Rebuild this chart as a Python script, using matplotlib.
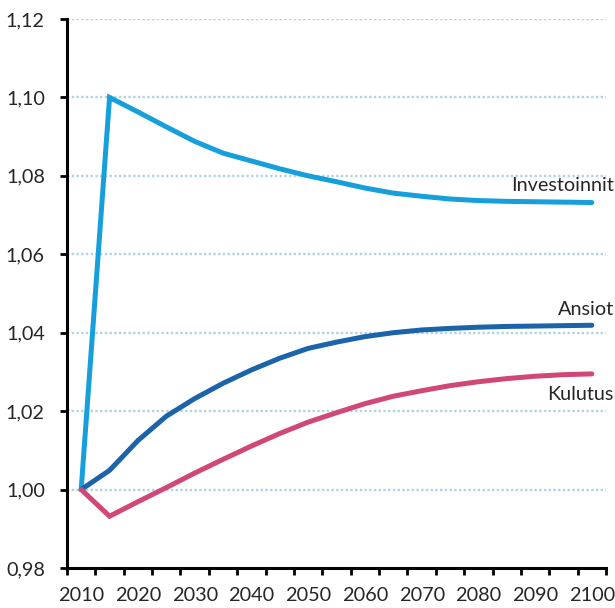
import matplotlib
matplotlib.use("Agg")
import matplotlib.pyplot as plt
from matplotlib.ticker import FuncFormatter, FixedLocator

years = list(range(2010, 2101, 5))
investoinnit = [1.0000, 1.1000, 1.0963, 1.0925, 1.0888, 1.0858, 1.0838, 1.0818, 1.0800,
                1.0785, 1.0769, 1.0756, 1.0748, 1.0741, 1.0737, 1.0735, 1.0734, 1.0733, 1.0732]
ansiot = [1.0000, 1.0049, 1.0125, 1.0187, 1.0232, 1.0271, 1.0305, 1.0335, 1.0360,
          1.0376, 1.0390, 1.0400, 1.0407, 1.0411, 1.0414, 1.0416, 1.0417, 1.0418, 1.0419]
kulutus = [1.0000, 0.9932, 0.9969, 1.0005, 1.0042, 1.0077, 1.0111, 1.0143, 1.0172,
           1.0196, 1.0219, 1.0238, 1.0252, 1.0265, 1.0275, 1.0283, 1.0289, 1.0293, 1.0295]
series_names = ["Investoinnit", "Ansiot", "Kulutus"]
colors = ["#169fdb", "#1b64a9", "#d04778"]
xtick_labels = [str(y) for y in range(2010, 2101, 10)]
yticks = [0.98, 1.00, 1.02, 1.04, 1.06, 1.08, 1.10, 1.12]

plt.rcParams['font.family'] = ['Lato', 'DejaVu Sans']
FS = 14.3
TC = '#262626'

fig = plt.figure(figsize=(6.15, 6.08), dpi=100)
ax = fig.add_axes([67/615, 1 - 568/608, (606-67)/615, (568-19)/608])

for vals, c in zip([investoinnit, ansiot, kulutus], colors):
    ax.plot(years, vals, color=c, lw=3.6, solid_capstyle='round', solid_joinstyle='miter', zorder=3)

ax.set_xlim(2007.5, 2102.5)
ax.set_ylim(0.98, 1.12)

for y in yticks[1:]:
    ax.axhline(y, color="#b0d3e0", lw=1.7, linestyle=(0, (1, 1)), zorder=1)

ax.set_yticks(yticks)
ax.yaxis.set_major_formatter(FuncFormatter(lambda v, p: f"{v:.2f}".replace(".", ",")))
ax.set_xticks(list(range(2010, 2101, 10)))
ax.set_xticklabels(xtick_labels)
ax.xaxis.set_minor_locator(FixedLocator([2007.5 + 5 * i for i in range(20)]))
ax.tick_params(axis='x', which='major', length=0, pad=14, labelsize=FS, colors=TC)
ax.tick_params(axis='x', which='minor', length=5, width=2, color='black', direction='out')
ax.tick_params(axis='y', which='major', length=5, width=2, pad=11, labelsize=FS,
               labelcolor=TC, color='black')

for s in ['top', 'right']:
    ax.spines[s].set_visible(False)
for s in ['left', 'bottom']:
    ax.spines[s].set_linewidth(2.2)
    ax.spines[s].set_color('black')

for name, ypix in zip(series_names, [185, 309, 394]):
    ax.text(2103.9, 1.12 - (ypix - 19) / 3920, name, ha='right', va='center', fontsize=FS, color=TC)

fig.savefig("out.png", dpi=100)
